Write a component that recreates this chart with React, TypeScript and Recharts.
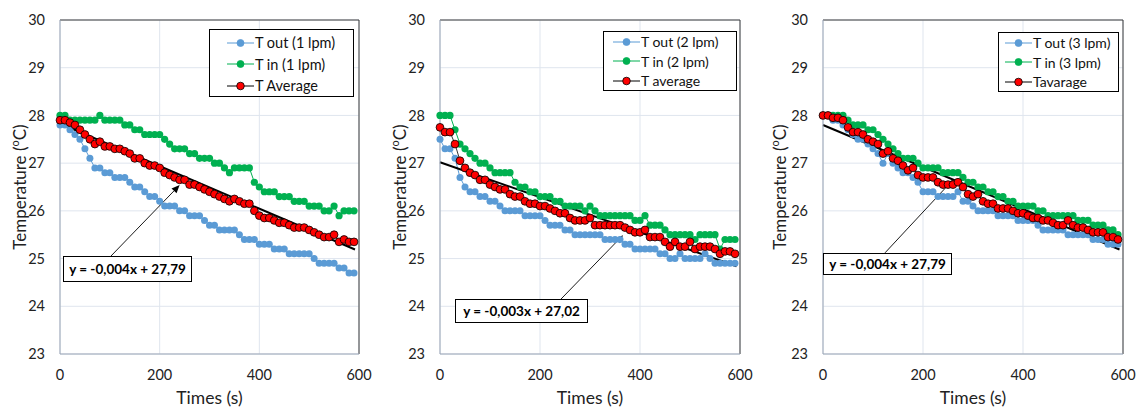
import React from 'react';
import { LineChart, Line, XAxis, YAxis, CartesianGrid, Legend, ReferenceLine } from 'recharts';

// sample times (s)
const times = [
  0, 10, 20, 30, 40, 50, 60, 70, 80, 90, 100, 110, 120, 130, 140, 150, 160, 170, 180, 190,
  200, 210, 220, 230, 240, 250, 260, 270, 280, 290, 300, 310, 320, 330, 340, 350, 360, 370, 380, 390,
  400, 410, 420, 430, 440, 450, 460, 470, 480, 490, 500, 510, 520, 530, 540, 550, 560, 570, 580, 590,
];

// 1 lpm
const tOut1 = [
  27.8, 27.8, 27.7, 27.6, 27.5, 27.3, 27.1, 26.9, 26.9, 26.8, 26.8, 26.7, 26.7, 26.7, 26.6, 26.5, 26.5, 26.4, 26.3, 26.3,
  26.2, 26.1, 26.1, 26.1, 26.0, 26.0, 25.9, 25.9, 25.9, 25.8, 25.7, 25.7, 25.6, 25.6, 25.6, 25.6, 25.5, 25.4, 25.4, 25.4,
  25.3, 25.3, 25.3, 25.2, 25.2, 25.2, 25.1, 25.1, 25.1, 25.1, 25.1, 25.0, 24.9, 24.9, 24.9, 24.9, 24.8, 24.8, 24.7, 24.7,
];
const tIn1 = [
  28.0, 28.0, 27.9, 27.9, 27.9, 27.9, 27.9, 27.9, 28.0, 27.9, 27.9, 27.9, 27.9, 27.8, 27.8, 27.7, 27.7, 27.6, 27.6, 27.6,
  27.6, 27.5, 27.4, 27.3, 27.3, 27.3, 27.2, 27.2, 27.1, 27.1, 27.1, 27.0, 27.0, 26.9, 26.8, 26.9, 26.9, 26.9, 26.9, 26.6,
  26.5, 26.4, 26.4, 26.4, 26.3, 26.3, 26.3, 26.2, 26.2, 26.2, 26.1, 26.1, 26.1, 26.0, 26.0, 26.1, 25.9, 26.0, 26.0, 26.0,
];
const tAvg1 = [
  27.9, 27.9, 27.85, 27.8, 27.7, 27.6, 27.5, 27.4, 27.45, 27.35, 27.35, 27.3, 27.3, 27.25, 27.2, 27.1, 27.1, 27.0, 26.95, 26.95,
  26.9, 26.8, 26.75, 26.7, 26.65, 26.65, 26.55, 26.55, 26.5, 26.45, 26.4, 26.35, 26.3, 26.25, 26.2, 26.25, 26.2, 26.15, 26.15, 26.0,
  25.9, 25.85, 25.85, 25.8, 25.75, 25.75, 25.7, 25.65, 25.65, 25.65, 25.6, 25.55, 25.5, 25.45, 25.45, 25.5, 25.35, 25.4, 25.35, 25.35,
];

// 2 lpm
const tOut2 = [
  27.5, 27.3, 27.3, 27.1, 26.7, 26.5, 26.4, 26.4, 26.3, 26.3, 26.2, 26.2, 26.1, 26.0, 26.0, 26.0, 26.0, 25.9, 25.9, 25.9,
  25.9, 25.8, 25.7, 25.7, 25.7, 25.6, 25.6, 25.5, 25.5, 25.5, 25.5, 25.5, 25.5, 25.4, 25.4, 25.4, 25.4, 25.3, 25.3, 25.2,
  25.2, 25.2, 25.2, 25.2, 25.1, 25.1, 25.0, 25.0, 25.1, 25.0, 25.0, 25.0, 25.0, 25.1, 25.0, 24.9, 24.9, 24.9, 24.9, 24.9,
];
const tIn2 = [
  28.0, 28.0, 28.0, 27.7, 27.4, 27.3, 27.2, 27.1, 27.0, 27.0, 26.9, 26.8, 26.8, 26.8, 26.8, 26.6, 26.5, 26.5, 26.4, 26.4,
  26.3, 26.3, 26.3, 26.2, 26.2, 26.1, 26.1, 26.1, 26.1, 26.0, 26.1, 26.0, 25.9, 25.9, 25.9, 25.9, 25.9, 25.9, 25.9, 25.8,
  25.8, 25.9, 25.7, 25.7, 25.7, 25.6, 25.5, 25.5, 25.5, 25.5, 25.5, 25.4, 25.5, 25.5, 25.5, 25.5, 25.2, 25.4, 25.4, 25.4,
];
const tAvg2 = [
  27.75, 27.65, 27.65, 27.4, 27.05, 26.9, 26.8, 26.75, 26.65, 26.65, 26.55, 26.5, 26.45, 26.45, 26.35, 26.3, 26.3, 26.2, 26.15, 26.15,
  26.1, 26.1, 26.05, 26.0, 25.95, 25.95, 25.85, 25.8, 25.8, 25.8, 25.85, 25.7, 25.7, 25.7, 25.7, 25.7, 25.7, 25.65, 25.6, 25.55,
  25.55, 25.6, 25.45, 25.45, 25.45, 25.35, 25.25, 25.35, 25.25, 25.25, 25.35, 25.2, 25.25, 25.25, 25.25, 25.2, 25.1, 25.15, 25.15, 25.1,
];

// 3 lpm
const tOut3 = [
  28.0, 28.0, 27.9, 27.9, 27.8, 27.7, 27.6, 27.5, 27.5, 27.4, 27.3, 27.2, 27.0, 27.2, 27.0, 26.9, 26.8, 26.8, 26.7, 26.6,
  26.4, 26.4, 26.4, 26.3, 26.3, 26.3, 26.3, 26.4, 26.2, 26.2, 26.1, 26.0, 26.0, 26.0, 26.0, 25.9, 25.9, 25.9, 25.9, 25.8,
  25.8, 25.8, 25.8, 25.7, 25.6, 25.6, 25.6, 25.6, 25.6, 25.5, 25.5, 25.5, 25.5, 25.5, 25.4, 25.4, 25.4, 25.3, 25.3, 25.3,
];
const tIn3 = [
  28.0, 28.0, 28.0, 28.0, 28.0, 27.9, 27.8, 27.8, 27.8, 27.7, 27.7, 27.6, 27.5, 27.4, 27.3, 27.2, 27.1, 27.1, 27.1, 27.0,
  26.9, 26.9, 26.9, 26.9, 26.8, 26.8, 26.8, 26.8, 26.7, 26.6, 26.6, 26.5, 26.5, 26.4, 26.4, 26.3, 26.3, 26.2, 26.2, 26.1,
  26.1, 26.1, 26.1, 26.0, 26.0, 25.9, 25.9, 25.9, 25.9, 25.9, 25.9, 25.8, 25.8, 25.8, 25.7, 25.7, 25.7, 25.6, 25.6, 25.5,
];
const tAvg3 = [
  28.0, 28.0, 27.95, 27.95, 27.9, 27.75, 27.65, 27.65, 27.6, 27.5, 27.45, 27.4, 27.2, 27.25, 27.1, 27.05, 26.95, 26.85, 26.9, 26.75,
  26.7, 26.7, 26.7, 26.6, 26.55, 26.55, 26.55, 26.6, 26.5, 26.35, 26.3, 26.35, 26.2, 26.15, 26.15, 26.05, 26.05, 26.05, 26.0, 25.95,
  25.95, 25.9, 25.85, 25.85, 25.8, 25.8, 25.75, 25.7, 25.7, 25.8, 25.7, 25.65, 25.65, 25.6, 25.55, 25.55, 25.55, 25.45, 25.45, 25.4,
];

// linear fits (end points as drawn)
const trend1 = [{ t: 0, v: 27.83 }, { t: 592, v: 25.19 }];
const trend2 = [{ t: 0, v: 27.02 }, { t: 593, v: 24.84 }];
const trend3 = [{ t: 0, v: 27.8 }, { t: 593, v: 25.19 }];

const legend1 = ['T out (1 lpm)', 'T in (1 lpm)', 'T Average'];
const legend2 = ['T out (2 lpm)', 'T in (2 lpm)', 'T average'];
const legend3 = ['T out (3 lpm)', 'T in (3 lpm)', 'Tavarage'];

const eq1 = 'y = -0,004x + 27,79';
const eq2 = 'y = -0,003x + 27,02';
const eq3 = 'y = -0,004x + 27,79';

// arrow from label to fit line (data coords)
const arrow1 = [{ x: 102, y: 25.05 }, { x: 240, y: 26.54 }];
const arrow2 = [{ x: 240, y: 24.13 }, { x: 366, y: 25.49 }];
const arrow3 = [{ x: 124, y: 25.12 }, { x: 260, y: 26.65 }];

const xTicks = [0, 200, 400, 600];
const yTicks = [23, 24, 25, 26, 27, 28, 29, 30];

const BLUE = '#5B9BD5';
const GREEN = '#00B050';
const RED = '#FF0000';
const FONT = 'Lato, "Open Sans", sans-serif';

const ArrowShape = (props: any) => {
  const { x1, y1, x2, y2 } = props;
  const ang = Math.atan2(y2 - y1, x2 - x1);
  const len = 8;
  const w = 3.5;
  const bx = x2 - len * Math.cos(ang);
  const by = y2 - len * Math.sin(ang);
  const px = -Math.sin(ang) * w;
  const py = Math.cos(ang) * w;
  return (
    <g>
      <line x1={x1} y1={y1} x2={bx} y2={by} stroke="#000" strokeWidth={0.9} />
      <polygon points={`${x2},${y2} ${bx + px},${by + py} ${bx - px},${by - py}`} fill="#000" />
    </g>
  );
};

const LegendBox = ({ names, box }: any) => {
  const styles = [
    { line: BLUE, fill: BLUE, stroke: BLUE, r: 3.5 },
    { line: GREEN, fill: GREEN, stroke: GREEN, r: 3.5 },
    { line: '#000', fill: RED, stroke: '#000', r: 3.8 },
  ];
  return (
    <div
      style={{
        width: box.w,
        height: box.h,
        boxSizing: 'border-box',
        border: '1px solid #000',
        background: '#fff',
        paddingLeft: box.pad,
        paddingTop: box.padTop,
        fontFamily: FONT,
        fontSize: box.fs,
        color: '#111',
      }}
    >
      {names.map((n: string, i: number) => (
        <div key={n} style={{ display: 'flex', alignItems: 'center', height: box.rowH }}>
          <svg width={27} height={12} style={{ flex: 'none' }}>
            <line x1={0} y1={6} x2={27} y2={6} stroke={styles[i].line} strokeWidth={1} />
            <circle cx={13.5} cy={6} r={styles[i].r} fill={styles[i].fill} stroke={styles[i].stroke} strokeWidth={0.8} />
          </svg>
          <span style={{ marginLeft: 1, whiteSpace: 'nowrap' }}>{n}</span>
        </div>
      ))}
    </div>
  );
};

const Panel = ({ left, width, right, yWidth, tOut, tIn, tAvg, trend, names, legendBox, eq, eqBox, arrow }: any) => {
  const rows = times.map((t, i) => ({ t, out: tOut[i], in: tIn[i], avg: tAvg[i] }));
  return (
    <div style={{ position: 'absolute', left, top: 0, width, height: 410 }}>
      <LineChart width={width} height={410} data={rows} margin={{ top: 20, right, bottom: 6, left: 15 }}>
        <CartesianGrid stroke="#dfe5ee" strokeWidth={1} />
        <XAxis
          type="number"
          dataKey="t"
          domain={[0, 600]}
          ticks={xTicks}
          tickLine={false}
          tickMargin={10}
          height={50}
          axisLine={{ stroke: '#9aa5b5' }}
          tick={{ fill: '#222', fontSize: 14.5, fontFamily: FONT }}
          label={{
            content: (p: any) => {
              const vb = p.viewBox;
              return (
                <text x={vb.x + vb.width / 2} y={404} textAnchor="middle" fill="#222" fontSize={17.5} fontFamily={FONT}>
                  Times (s)
                </text>
              );
            },
          }}
        />
        <YAxis
          type="number"
          domain={[23, 30]}
          ticks={yTicks}
          width={yWidth}
          tickLine={false}
          tickMargin={9}
          axisLine={{ stroke: '#9aa5b5' }}
          tick={{ fill: '#222', fontSize: 14.5, fontFamily: FONT }}
          label={{
            content: (p: any) => {
              const vb = p.viewBox;
              const cx = 19;
              const cy = vb.y + vb.height / 2;
              return (
                <text
                  x={cx}
                  y={cy}
                  transform={`rotate(-90 ${cx} ${cy})`}
                  textAnchor="middle"
                  dominantBaseline="central"
                  fill="#222"
                  fontSize={17}
                  fontFamily={FONT}
                >
                  Temperature (<tspan fontSize={11} dy={-5}>o</tspan>
                  <tspan dy={5}>C)</tspan>
                </text>
              );
            },
          }}
        />
        <ReferenceLine y={30} stroke="#3a3a3a" strokeWidth={1} />
        <ReferenceLine x={600} stroke="#3a3a3a" strokeWidth={1} />
        <Line
          dataKey="out"
          stroke={BLUE}
          strokeWidth={1}
          dot={{ r: 3.5, fill: BLUE, stroke: BLUE, strokeWidth: 0 }}
          isAnimationActive={false}
          legendType="none"
        />
        <Line
          dataKey="in"
          stroke={GREEN}
          strokeWidth={1}
          dot={{ r: 3.6, fill: GREEN, stroke: GREEN, strokeWidth: 0 }}
          isAnimationActive={false}
          legendType="none"
        />
        <Line
          dataKey="avg"
          stroke="#000"
          strokeWidth={0.8}
          dot={{ r: 3.9, fill: RED, stroke: '#000', strokeWidth: 0.8 }}
          isAnimationActive={false}
          legendType="none"
        />
        <Line
          data={trend}
          dataKey="v"
          stroke="#000"
          strokeWidth={2}
          dot={false}
          isAnimationActive={false}
          legendType="none"
        />
        <ReferenceLine segment={arrow} shape={ArrowShape} />
        <Legend
          layout="vertical"
          align="center"
          verticalAlign="middle"
          content={() => <LegendBox names={names} box={legendBox} />}
          wrapperStyle={{ position: 'absolute', left: legendBox.x, top: legendBox.y, width: legendBox.w, height: legendBox.h }}
        />
      </LineChart>
      <div
        style={{
          position: 'absolute',
          left: eqBox.x,
          top: eqBox.y,
          width: eqBox.w,
          height: eqBox.h,
          boxSizing: 'border-box',
          border: '1px solid #000',
          background: '#fff',
          fontFamily: FONT,
          fontWeight: 700,
          fontSize: 13.5,
          color: '#000',
          display: 'flex',
          alignItems: 'center',
          justifyContent: 'center',
          whiteSpace: 'nowrap',
        }}
      >
        {eq}
      </div>
    </div>
  );
};

export default function App() {
  return (
    <div style={{ position: 'absolute', left: 0, top: 0, width: 1138, height: 410, background: '#fff' }}>
      <Panel
        left={0}
        width={380}
        right={21}
        yWidth={45}
        tOut={tOut1}
        tIn={tIn1}
        tAvg={tAvg1}
        trend={trend1}
        names={legend1}
        legendBox={{ x: 209, y: 29, w: 145, h: 68, pad: 17, padTop: 2, rowH: 21.5, fs: 14.5 }}
        eq={eq1}
        eqBox={{ x: 63, y: 256, w: 129, h: 26 }}
        arrow={arrow1}
      />
      <Panel
        left={380}
        width={380}
        right={20}
        yWidth={45}
        tOut={tOut2}
        tIn={tIn2}
        tAvg={tAvg2}
        trend={trend2}
        names={legend2}
        legendBox={{ x: 223, y: 31, w: 134, h: 60, pad: 9, padTop: 0, rowH: 19.5, fs: 14 }}
        eq={eq2}
        eqBox={{ x: 75, y: 299, w: 133, h: 24 }}
        arrow={arrow2}
      />
      <Panel
        left={760}
        width={378}
        right={15}
        yWidth={48}
        tOut={tOut3}
        tIn={tIn3}
        tAvg={tAvg3}
        trend={trend3}
        names={legend3}
        legendBox={{ x: 238, y: 32, w: 121, h: 60, pad: 6, padTop: 0, rowH: 19.5, fs: 14 }}
        eq={eq3}
        eqBox={{ x: 63, y: 253, w: 129, h: 22 }}
        arrow={arrow3}
      />
    </div>
  );
}
